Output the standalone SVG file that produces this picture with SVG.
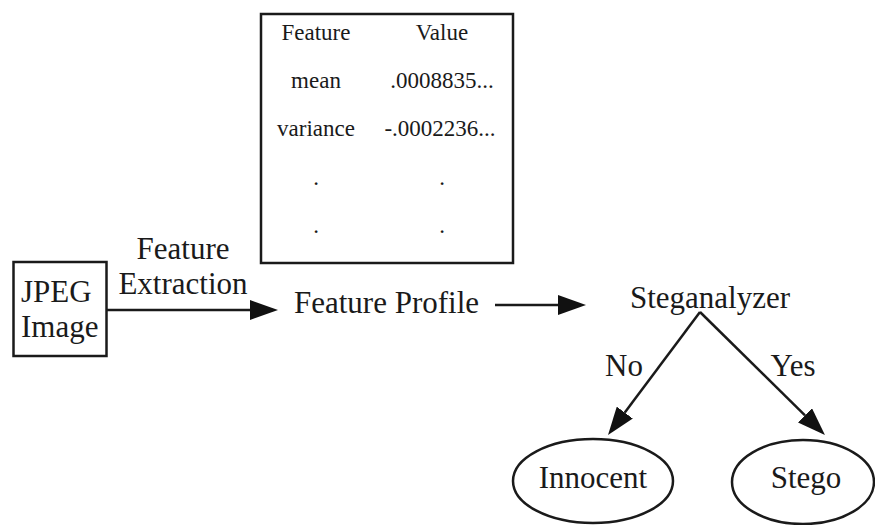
<svg xmlns="http://www.w3.org/2000/svg" width="875" height="525" viewBox="0 0 875 525">
<style>
text{font-family:"Liberation Serif","Times New Roman",serif;fill:#1a1a1a}
.big{font-size:31px}
.tb{font-size:23px;text-anchor:middle}
.box{fill:none;stroke:#1a1a1a;stroke-width:2.5}
.ln{stroke:#1a1a1a;stroke-width:2.5;fill:none}
</style>
<defs>
<marker id="ah" viewBox="0 0 28 20" refX="0" refY="10" markerWidth="28" markerHeight="20" markerUnits="userSpaceOnUse" orient="auto">
<path d="M0,0 L28,10 L0,20 z" fill="#111"/>
</marker>
</defs>
<rect width="875" height="525" fill="#fff"/>
<g id="table">
<rect class="box" x="261" y="14" width="252" height="249"/>
<text class="tb" x="316" y="40">Feature</text>
<text class="tb" x="442" y="40">Value</text>
<text class="tb" x="316" y="88">mean</text>
<text class="tb" x="442" y="88">.0008835...</text>
<text class="tb" x="316" y="136">variance</text>
<text class="tb" x="440" y="136">-.0002236...</text>
<text class="tb" x="316" y="185">.</text>
<text class="tb" x="442" y="185">.</text>
<text class="tb" x="316" y="233">.</text>
<text class="tb" x="442" y="233">.</text>
</g>
<g id="jpeg">
<rect class="box" x="13.5" y="262" width="93" height="94"/>
<text class="big" x="21" y="302">JPEG</text>
<text class="big" x="21" y="337">Image</text>
</g>
<g id="profile">
<text class="big" x="294" y="313">Feature Profile</text>
</g>
<g id="steganalyzer">
<text class="big" x="710" y="308" text-anchor="middle">Steganalyzer</text>
</g>
<g id="innocent">
<ellipse class="box" cx="593" cy="481" rx="80" ry="42"/>
<text class="big" x="593" y="488" text-anchor="middle">Innocent</text>
</g>
<g id="stego">
<ellipse class="box" cx="803" cy="482" rx="71" ry="42"/>
<text class="big" x="806" y="488" text-anchor="middle">Stego</text>
</g>
<g id="connectors">
<line class="ln" x1="107" y1="310" x2="250" y2="310" marker-end="url(#ah)"/>
<text class="big" x="183" y="259" text-anchor="middle">Feature</text>
<text class="big" x="183" y="294" text-anchor="middle">Extraction</text>
<line class="ln" x1="495" y1="305" x2="558" y2="305" marker-end="url(#ah)"/>
<line class="ln" x1="700" y1="312" x2="624.8" y2="412.6" marker-end="url(#ah)"/>
<line class="ln" x1="700" y1="312" x2="805" y2="415.4" marker-end="url(#ah)"/>
<text class="big" x="624" y="376" text-anchor="middle">No</text>
<text class="big" x="793" y="376" text-anchor="middle">Yes</text>
</g>
</svg>
